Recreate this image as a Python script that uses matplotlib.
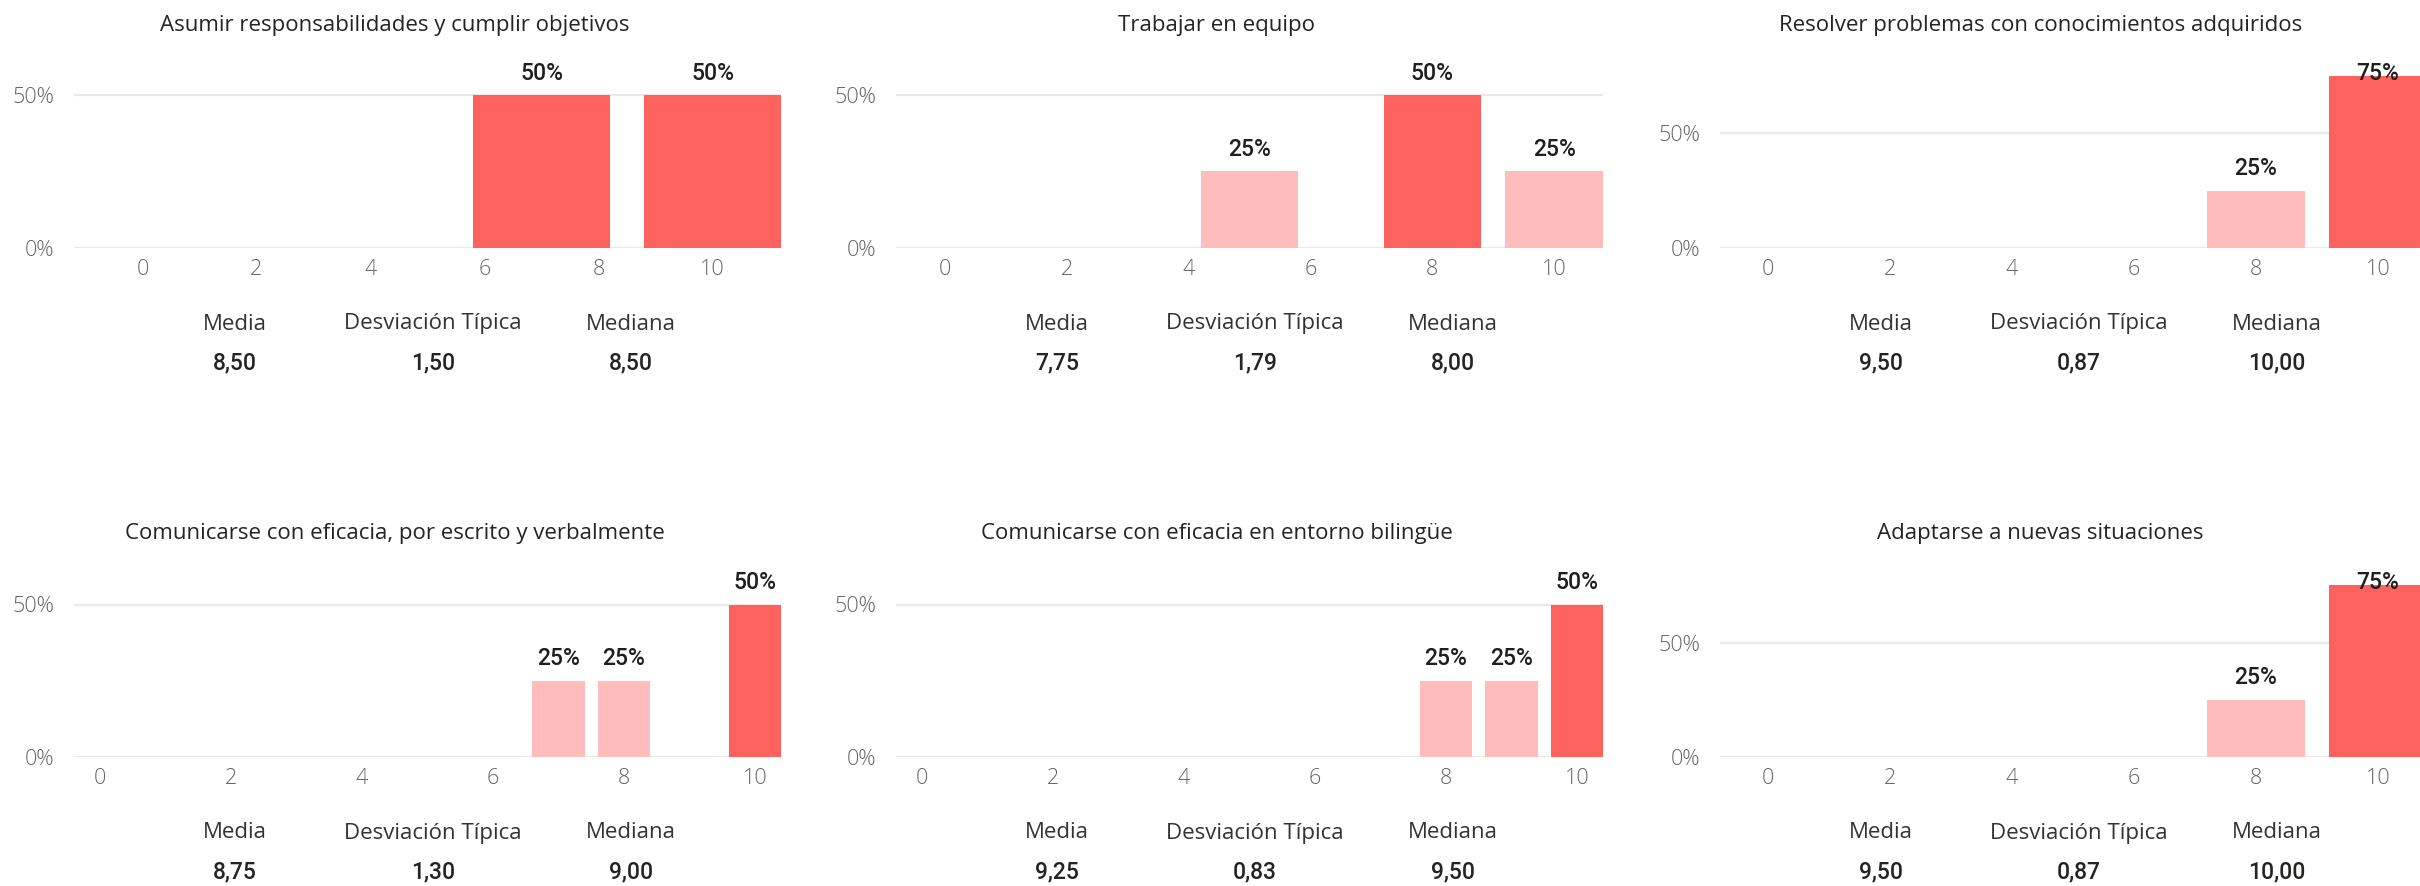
import numpy as np
import matplotlib
matplotlib.use("Agg")
import matplotlib.pyplot as plt
from matplotlib import font_manager

# ---------------- data ----------------
titles = [
    "Asumir responsabilidades y cumplir objetivos",
    "Trabajar en equipo",
    "Resolver problemas con conocimientos adquiridos",
    "Comunicarse con eficacia, por escrito y verbalmente",
    "Comunicarse con eficacia en entorno bilingüe",
    "Adaptarse a nuevas situaciones",
]
bar_scores = [[7, 10], [5, 8, 10], [8, 10], [7, 8, 10], [8, 9, 10], [8, 10]]
bar_shares = [[50, 50], [25, 50, 25], [25, 75], [25, 25, 50], [25, 25, 50], [25, 75]]
means = [8.50, 7.75, 9.50, 8.75, 9.25, 9.50]
std_devs = [1.50, 1.79, 0.87, 1.30, 0.83, 0.87]
medians = [8.50, 8.00, 10.00, 9.00, 9.50, 10.00]
x_ticks = [0, 2, 4, 6, 8, 10]
y_ticks = [0, 50]
stat_names = ["Media", "Desviación Típica", "Mediana"]

# ---------------- styling ----------------
W, H = 2420, 886
DARK = "#FD625E"
LIGHT = "#FEBDBC"
GRID = "#E9E9E9"

names = {f.name for f in font_manager.fontManager.ttflist}
def pick(*cands):
    for c in cands:
        if c in names:
            return c
    return "DejaVu Sans"

MAIN = pick("Open Sans", "Noto Sans", "Lato")
LIGHTF = pick("Open Sans", "Lato", "Noto Sans")
DIN = pick("Roboto", "Inter", "Liberation Sans")

fig = plt.figure(figsize=(W / 100, H / 100), dpi=100)
fig.patch.set_facecolor("white")

col_left = [74, 896, 1719.5]
ax_w = 707
row_top = [64, 574]
row_bot = [248, 757]
ax_h = row_bot[0] - row_top[0]

def fmt(v):
    return f"{v:.2f}".replace(".", ",")

for i in range(6):
    r, c = divmod(i, 3)
    left = col_left[c]
    top, bot = row_top[r], row_bot[r]
    ax = fig.add_axes([left / W, 1 - bot / H, ax_w / W, (bot - top) / H])

    xs = np.array(bar_scores[i], dtype=float)
    ys = np.array(bar_shares[i], dtype=float) / 100.0
    gap = np.min(np.diff(np.sort(xs)))
    bw = 0.8 * gap
    ymax = np.ceil(ys.max() * 10 + 0.5) / 10
    colors = [DARK if y == ys.max() else LIGHT for y in ys]

    for yv in y_ticks:
        ax.axhline(yv / 100.0, color=GRID, lw=1.6, zorder=0)
    ax.bar(xs, ys, width=bw, color=colors, zorder=2)

    ax.set_xlim(-bw / 2, 10 + bw / 2)
    ax.set_ylim(0, ymax)
    ppu = ax_h / ymax
    for x, y in zip(xs, ys):
        ly = min(y + 22 / ppu, ymax - 9 / ppu)
        ax.text(x, ly, f"{int(round(y * 100))}%", ha="center", va="center",
                fontsize=16.5, color="#1f1f1f", family=DIN, weight="medium", zorder=3)

    ax.set_xticks(x_ticks)
    ax.set_xticklabels([str(t) for t in x_ticks])
    ax.set_yticks([t / 100.0 for t in y_ticks])
    ax.set_yticklabels([f"{t}%" for t in y_ticks])
    ax.tick_params(axis="both", length=0, labelcolor="#666666", labelsize=15.5)
    ax.tick_params(axis="x", pad=8)
    ax.tick_params(axis="y", pad=14)
    for lab in ax.get_xticklabels() + ax.get_yticklabels():
        lab.set_family(LIGHTF)
        lab.set_weight("light")
    for s in ax.spines.values():
        s.set_visible(False)
    ax.set_facecolor("none")

    # title
    ty = 25 + r * 509
    fig.text((left + 321) / W, 1 - ty / H, titles[i], ha="center", va="center",
             fontsize=16, color="#252423", family=MAIN)

    # stats
    offs = [161, 359, 557]
    vals = [means[i], std_devs[i], medians[i]]
    for k in range(3):
        fig.text((left + offs[k]) / W, 1 - (324 + r * 509) / H, stat_names[k],
                 ha="center", va="center", fontsize=16, color="#333333", family=MAIN)
        fig.text((left + offs[k]) / W, 1 - (363 + r * 509) / H, fmt(vals[k]),
                 ha="center", va="center", fontsize=16.5, color="#252423",
                 family=DIN, weight="medium")

fig.savefig("out.png", dpi=100, facecolor="white")
